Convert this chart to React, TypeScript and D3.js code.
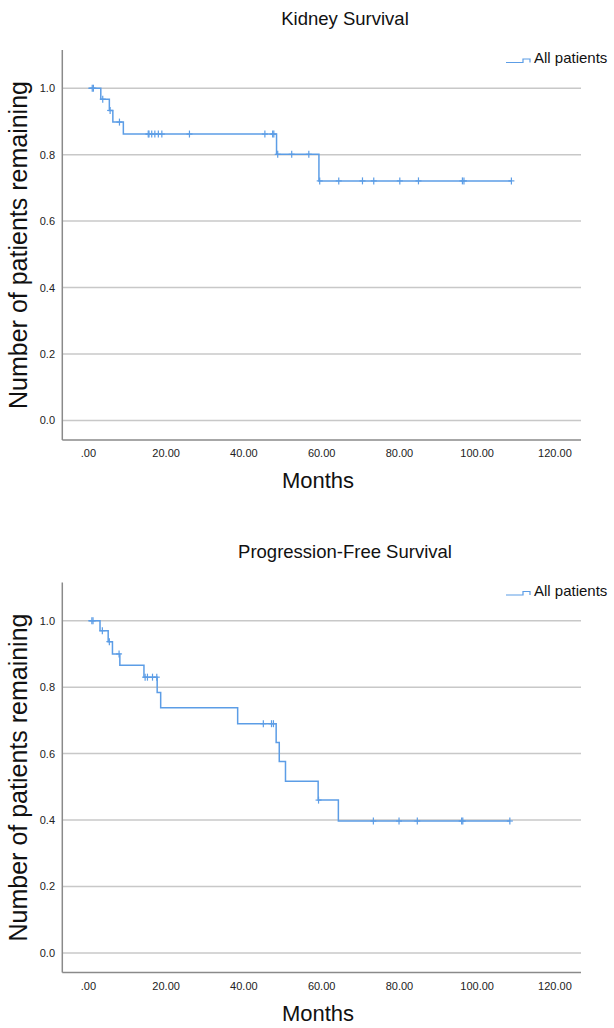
import React from 'react';
import * as d3 from 'd3';

// Kidney survival: event times (months) and survival proportion after each event
const kidneyEventMonths = [3.2, 5.4, 6.3, 9.0, 48.4, 59.3];
const kidneySurvival = [0.967, 0.933, 0.898, 0.862, 0.801, 0.721];
const kidneyCensorMonths = [1.0, 1.3, 3.7, 5.6, 8.0, 15.4, 15.6, 16.3, 17.1, 18.0, 18.9, 26.0, 45.4, 47.4, 47.7, 48.7, 52.3, 56.7, 59.5, 64.4, 70.5, 73.4, 80.1, 84.9, 96.2, 96.6, 108.8];

// Progression-free survival
const pfsEventMonths = [3.0, 5.1, 6.2, 8.1, 14.3, 17.7, 18.6, 38.4, 48.3, 49.1, 50.7, 59.1, 64.3];
const pfsSurvival = [0.970, 0.937, 0.900, 0.866, 0.830, 0.784, 0.738, 0.690, 0.633, 0.576, 0.517, 0.460, 0.397];
const pfsCensorMonths = [0.9, 1.2, 3.6, 5.4, 7.9, 14.6, 15.2, 16.5, 17.6, 45.0, 47.1, 47.6, 59.2, 73.3, 79.9, 84.6, 96.0, 96.3, 108.4];

const xTicks = [0, 20, 40, 60, 80, 100, 120];
const yTicks = [0, 0.2, 0.4, 0.6, 0.8, 1.0];

const FONT = '"Liberation Sans", Arial, sans-serif';
const LINE = '#5c9de6';
const GRID = '#c8c8c8';
const AXIS = '#8a8a8a';

interface PanelProps {
  title: string;
  events: number[];
  survival: number[];
  censors: number[];
  top: number;
}

const survivalAt = (t: number, events: number[], survival: number[]) => {
  let s = 1;
  events.forEach((e, i) => {
    if (e <= t) s = survival[i];
  });
  return s;
};

const Panel: React.FC<PanelProps> = ({ title, events, survival, censors, top }) => {
  const x = d3.scaleLinear().domain([-6.7, 126.7]).range([62.3, 581]);
  const y = d3.scaleLinear().domain([-0.059, 1.115]).range([440, 50]);

  const endTime = d3.max(censors.concat(events)) || 0;
  const pts: [number, number][] = [[0, 1]];
  events.forEach((e, i) => pts.push([e, survival[i]]));
  pts.push([endTime, survival[survival.length - 1]]);

  const line = d3.line<[number, number]>()
    .x(d => x(d[0]))
    .y(d => y(d[1]))
    .curve(d3.curveStepAfter);

  return (
    <g transform={`translate(0,${top})`} fontFamily={FONT}>
      <text x={345} y={25} textAnchor="middle" fontSize={18.5} fill="#111">{title}</text>

      {yTicks.map(t => (
        <g key={t}>
          <line x1={x.range()[0]} x2={x.range()[1]} y1={y(t)} y2={y(t)} stroke={GRID} strokeWidth={1.5} />
          <text x={55} y={y(t) + 4} textAnchor="end" fontSize={11} fill="#222">{t.toFixed(1)}</text>
        </g>
      ))}

      <line x1={x.range()[0]} x2={x.range()[0]} y1={50} y2={440} stroke={AXIS} strokeWidth={1.5} />
      <line x1={x.range()[0]} x2={x.range()[1]} y1={440} y2={440} stroke={AXIS} strokeWidth={1.5} />

      {xTicks.map(t => (
        <text key={t} x={x(t)} y={457} textAnchor="middle" fontSize={11} fill="#222">
          {t === 0 ? '.00' : t.toFixed(2)}
        </text>
      ))}

      <path d={line(pts) || ''} fill="none" stroke={LINE} strokeWidth={1.5} />

      {censors.map((c, i) => {
        const cx = x(c);
        const cy = y(survivalAt(c, events, survival));
        return (
          <g key={i} stroke={LINE} strokeWidth={1.2}>
            <line x1={cx} x2={cx} y1={cy - 3.5} y2={cy + 3.5} />
            <line x1={cx - 3} x2={cx + 3} y1={cy} y2={cy} />
          </g>
        );
      })}

      <text x={318} y={488} textAnchor="middle" fontSize={22} fill="#111">Months</text>
      <text transform="translate(27,245) rotate(-90)" textAnchor="middle" fontSize={25} fill="#111">
        Number of patients remaining
      </text>

      <path d="M506,62.5H523V59H530V62.5" fill="none" stroke={LINE} strokeWidth={1.2} />
      <text x={534} y={63} fontSize={15} fill="#111">All patients</text>
    </g>
  );
};

export default function App() {
  return (
    <svg
      width={614}
      height={1028}
      viewBox="0 0 614 1028"
      style={{ position: 'absolute', left: 0, top: 0, background: '#fff' }}
    >
      <rect width={614} height={1028} fill="#fff" />
      <Panel title="Kidney Survival" events={kidneyEventMonths} survival={kidneySurvival} censors={kidneyCensorMonths} top={0} />
      <Panel title="Progression-Free Survival" events={pfsEventMonths} survival={pfsSurvival} censors={pfsCensorMonths} top={532.5} />
    </svg>
  );
}
